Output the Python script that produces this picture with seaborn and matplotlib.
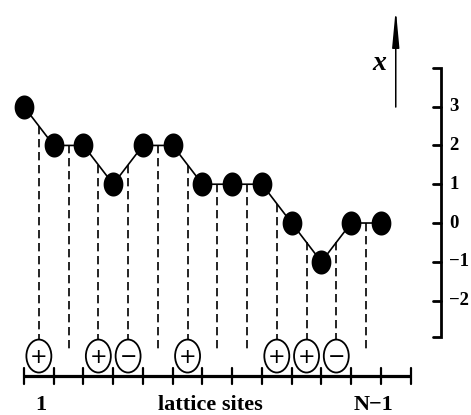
import numpy as np
import pandas as pd
import matplotlib
matplotlib.use("Agg")
import matplotlib.pyplot as plt
import seaborn as sns
from matplotlib.patches import Ellipse
from matplotlib.path import Path

# ---- data ----
heights = [3, 2, 2, 1, 2, 2, 1, 1, 1, 0, -1, 0, 0]          # interface height x at each point
bond_signs = ['+', '', '+', '−', '', '+', '', '', '+', '+', '−', '']  # charge on each lattice site
yticks = [3, 2, 1, 0, -1, -2]
ytick_labels = ['3', '2', '1', '0', '−1', '−2']
site_labels = {0: '1', 11: 'N−1'}
xlabel = 'lattice sites'
ylabel = 'x'

sns.set_theme(style='white')
plt.rcParams['font.family'] = ['Liberation Serif', 'DejaVu Serif']

fig = plt.figure(figsize=(4.71, 4.15), dpi=100)
ax = fig.add_axes([0, 0, 1, 1])
ax.set_xlim(-0.807, 15.03)
ax.set_ylim(-4.95, 5.75)
ax.axis('off')

pts = pd.DataFrame({'site': np.arange(len(heights)), 'x': heights})

# connecting line
sns.lineplot(data=pts, x='site', y='x', color='black', lw=1.2, ax=ax,
             sort=False, legend=False, zorder=2)
# dots (slightly tall ellipse marker)
t = np.linspace(0, 2 * np.pi, 60)
ell = Path(np.column_stack([0.82 * np.cos(t), np.sin(t)]), closed=True)
sns.scatterplot(data=pts, x='site', y='x', marker=ell, s=300, color='black',
                edgecolor='black', linewidth=0, ax=ax, legend=False, zorder=3)

# bonds / lattice sites
bonds = pd.DataFrame({'pos': np.arange(len(bond_signs)) + 0.5,
                      'top': [(heights[i] + heights[i + 1]) / 2 for i in range(len(bond_signs))],
                      'sign': bond_signs})
circ_y = -3.43
circ_h = 0.85
for _, r in bonds.iterrows():
    bottom = circ_y + circ_h / 2 if r['sign'] else -3.32
    ax.plot([r['pos'], r['pos']], [r['top'], bottom], color='black', lw=1.2,
            linestyle=(0, (5.0, 2.8)), zorder=1)
    if r['sign']:
        ax.add_patch(Ellipse((r['pos'], circ_y), 0.84, circ_h, facecolor='white',
                             edgecolor='black', lw=1.3, zorder=4))
        ax.text(r['pos'], circ_y - 0.02, r['sign'], ha='center', va='center',
                fontsize=15, family=['DejaVu Sans'], color='black', zorder=5)

# bottom axis (lattice)
ax_y = -3.94
nticks = len(heights) + 1
ax.plot([0, nticks - 1], [ax_y, ax_y], color='black', lw=2.3, solid_capstyle='butt', zorder=3)
for k in range(nticks):
    ax.plot([k, k], [ax_y - 0.2, ax_y + 0.2], color='black', lw=1.6, zorder=3)
for k, lab in site_labels.items():
    ax.text(k + 0.55 + (0.2 if k > 0 else 0), -4.68, lab, ha='center', va='center',
            fontsize=16, fontweight='bold', color='black')
ax.text(6.25, -4.68, xlabel, ha='center', va='center', fontsize=16,
        fontweight='bold', color='black')

# right vertical scale
rx = 14.02
cap = 0.27
ax.plot([rx - cap, rx, rx, rx - cap], [3.99, 3.99, -2.94, -2.94], color='black',
        lw=2.0, solid_joinstyle='miter', zorder=3)
for v, lab in zip(yticks, ytick_labels):
    ax.plot([rx - cap, rx], [v, v], color='black', lw=2.0, zorder=3)
    ax.text(rx + 0.28, v, lab, ha='left', va='center', fontsize=13.5,
            fontweight='bold', color='black')

# arrow with x label
ax.annotate('', xy=(12.5, 5.52), xytext=(12.5, 2.99),
            arrowprops=dict(arrowstyle='-|>,head_length=1.6,head_width=0.15',
                            color='black', lw=1.1, mutation_scale=14,
                            shrinkA=0, shrinkB=0))
ax.text(11.95, 4.1, ylabel, ha='center', va='center', fontsize=20,
        fontweight='bold', fontstyle='italic', color='black')

fig.savefig('out.png', dpi=100, facecolor='white')
